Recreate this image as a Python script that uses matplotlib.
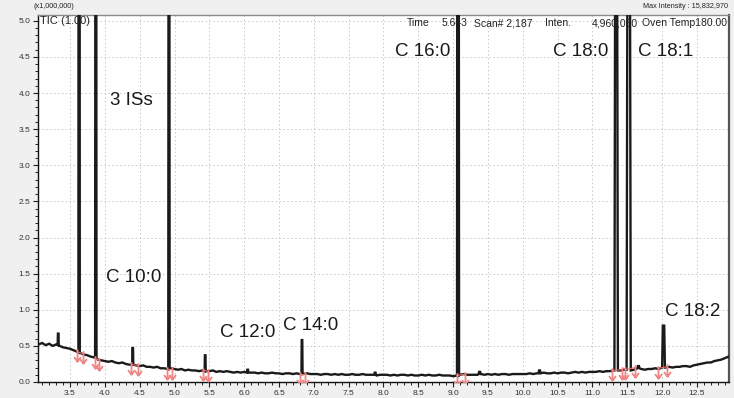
import numpy as np
import matplotlib
matplotlib.use("Agg")
import matplotlib.pyplot as plt
from matplotlib.ticker import MultipleLocator, FormatStrFormatter
from matplotlib.path import Path
from matplotlib import font_manager

# ---- chromatogram data (intensity in units of 1,000,000) ----
# baseline trace sampled every 0.05 min from 3.05 to 12.95 min
base_start, base_step = 3.05, 0.05
baseline = [
    0.52, 0.54, 0.51, 0.53, 0.50, 0.52, 0.50, 0.48, 0.47, 0.46,
    0.44, 0.42, 0.40, 0.38, 0.37, 0.35, 0.34, 0.31, 0.30, 0.29,
    0.28, 0.29, 0.27, 0.26, 0.27, 0.25, 0.24, 0.25, 0.23, 0.22,
    0.23, 0.21, 0.21, 0.20, 0.21, 0.19, 0.19, 0.18, 0.19, 0.18,
    0.17, 0.18, 0.16, 0.17, 0.16, 0.16, 0.15, 0.16, 0.15, 0.15,
    0.16, 0.14, 0.15, 0.14, 0.15, 0.14, 0.13, 0.14, 0.13, 0.14,
    0.14, 0.13, 0.13, 0.12, 0.13, 0.12, 0.12, 0.13, 0.12, 0.12,
    0.11, 0.12, 0.12, 0.11, 0.12, 0.11, 0.11, 0.12, 0.11, 0.11,
    0.11, 0.10, 0.11, 0.11, 0.10, 0.11, 0.10, 0.11, 0.10, 0.10,
    0.11, 0.10, 0.10, 0.11, 0.10, 0.10, 0.10, 0.09, 0.10, 0.10,
    0.10, 0.09, 0.10, 0.09, 0.10, 0.10, 0.09, 0.10, 0.09, 0.09,
    0.10, 0.09, 0.10, 0.09, 0.09, 0.10, 0.09, 0.09, 0.09, 0.08,
    0.09, 0.10, 0.11, 0.10, 0.10, 0.10, 0.10, 0.11, 0.10, 0.11,
    0.10, 0.11, 0.10, 0.11, 0.11, 0.10, 0.11, 0.11, 0.11, 0.11,
    0.11, 0.12, 0.11, 0.12, 0.11, 0.13, 0.12, 0.12, 0.13, 0.12,
    0.13, 0.13, 0.12, 0.13, 0.14, 0.13, 0.14, 0.13, 0.14, 0.14,
    0.14, 0.15, 0.14, 0.15, 0.15, 0.16, 0.16, 0.16, 0.17, 0.17,
    0.16, 0.17, 0.18, 0.18, 0.17, 0.18, 0.18, 0.19, 0.18, 0.19,
    0.20, 0.21, 0.20, 0.21, 0.21, 0.22, 0.22, 0.21, 0.23, 0.24,
    0.25, 0.26, 0.27, 0.27, 0.29, 0.30, 0.31, 0.33, 0.35,
]

# peaks: retention time (min), apex intensity, foot level, half-width (min)
peak_rt     = [3.33, 3.63, 3.87, 4.40, 4.92, 5.44, 6.05, 6.83, 7.88, 9.07, 9.38, 10.24, 11.34, 11.52, 11.66, 12.02]
peak_height = [0.67, 15.83, 9.60, 0.47, 8.30, 0.37, 0.17, 0.58, 0.13, 12.40, 0.14, 0.16, 6.90, 7.60, 0.22, 0.78]
peak_foot   = [0.51, 0.41, 0.33, 0.24, 0.18, 0.15, 0.13, 0.11, 0.10, 0.09, 0.11, 0.12, 0.16, 0.17, 0.19, 0.20]
peak_width  = [0.008, 0.010, 0.010, 0.008, 0.010, 0.008, 0.010, 0.008, 0.012, 0.015, 0.015, 0.015, 0.025, 0.030, 0.015, 0.020]

# integration start/end marks (pairs)
mark_rt    = [3.60, 3.69, 3.86, 3.92, 4.38, 4.48, 4.89, 4.96, 5.41, 5.48, 6.80, 6.87,
              9.05, 9.17, 11.28, 11.42, 11.47, 11.61, 11.94, 12.07]
mark_level = [0.42, 0.39, 0.33, 0.30, 0.24, 0.23, 0.18, 0.18, 0.16, 0.15, 0.11, 0.11,
              0.09, 0.11, 0.16, 0.17, 0.17, 0.20, 0.19, 0.21]

# peak annotations
label_text = ["3 ISs", "C 10:0", "C 12:0", "C 14:0", "C 16:0", "C 18:0", "C 18:1", "C 18:2"]
label_pos = [(4.07, 3.90), (4.02, 1.45), (5.65, 0.69), (6.56, 0.78),
             (8.16, 4.57), (10.44, 4.57), (11.65, 4.57), (12.04, 0.98)]

x_ticks = np.arange(3.5, 12.51, 0.5)
y_ticks = np.arange(0.0, 5.01, 0.5)

# ---- build trace ----
bt = np.round(base_start + base_step * np.arange(len(baseline)), 3)
bv = np.array(baseline)
keep = np.ones(len(bt), dtype=bool)
for rt, w in zip(peak_rt, peak_width):
    keep &= ~((bt >= rt - w) & (bt <= rt + w))
tt = list(bt[keep])
vv = list(bv[keep])
for rt, h, f, w in zip(peak_rt, peak_height, peak_foot, peak_width):
    tt += [rt - w, rt - 0.5 * w, rt + 0.5 * w, rt + w]
    vv += [f, h, h, f]
order = np.argsort(tt)
tt = np.array(tt)[order]
vv = np.array(vv)[order]

# ---- fonts ----
names = {f.name for f in font_manager.fontManager.ttflist}
narrow = "Liberation Sans Narrow" if "Liberation Sans Narrow" in names else "Liberation Sans"

# down-arrow marker used for integration start/end marks
arrow = Path([(0, 1), (0, -1), (-0.55, -0.25), (0, -1), (0.55, -0.25)],
             [Path.MOVETO, Path.LINETO, Path.MOVETO, Path.LINETO, Path.LINETO])

W, H = 734, 398
fig = plt.figure(figsize=(W / 100, H / 100), dpi=100, facecolor="#f0f0f0")
ax = fig.add_axes([38 / W, 1 - 382 / H, (729 - 38) / W, (382 - 15) / H])
ax.set_facecolor("white")

ax.plot(tt, vv, color="#1a1a1a", lw=1.7, solid_joinstyle="miter", zorder=3)

# integration baselines and marks
for i in range(0, len(mark_rt), 2):
    ax.plot(mark_rt[i:i + 2], mark_level[i:i + 2], color="#f06a6a", lw=0.8, zorder=4)
ax.plot(mark_rt, np.array(mark_level) - 0.05, linestyle="none", marker=arrow,
        markersize=9, markeredgewidth=1.3, markeredgecolor="#f08585",
        markerfacecolor="none", zorder=5)

ax.set_xlim(3.04, 12.96)
ax.set_ylim(0, 5.08)
ax.set_xticks(x_ticks)
ax.set_yticks(y_ticks)
ax.xaxis.set_minor_locator(MultipleLocator(0.1))
ax.yaxis.set_minor_locator(MultipleLocator(0.1))
ax.xaxis.set_major_formatter(FormatStrFormatter("%.1f"))
ax.yaxis.set_major_formatter(FormatStrFormatter("%.1f"))
ax.tick_params(which="major", direction="out", length=3.5, width=0.8, pad=2,
               labelsize=6, labelcolor="#333333", color="#222222")
ax.tick_params(which="minor", direction="out", length=2, width=0.7, color="#222222")
for lab in ax.get_xticklabels() + ax.get_yticklabels():
    lab.set_family(narrow)

ax.grid(True, which="major", color="#c8c8c8", linestyle=(0, (1.5, 2.5)), lw=0.7, zorder=0)

for side in ("left", "bottom"):
    ax.spines[side].set_color("#111111")
    ax.spines[side].set_linewidth(1.0)
ax.spines["top"].set_color("#8a8a8a")
ax.spines["top"].set_linewidth(1.0)
ax.spines["right"].set_color("#555555")
ax.spines["right"].set_linewidth(1.6)

for txt, (x, y) in zip(label_text, label_pos):
    ax.text(x, y, txt, fontsize=13.5, family="Liberation Sans", color="#1a1a1a",
            ha="left", va="center", zorder=6)

# header texts
def ftxt(x, y, s, size, ha="left"):
    fig.text(x / W, 1 - y / H, s, fontsize=size, family=narrow, color="#222222",
             ha=ha, va="center")

ftxt(33, 7, "(x1,000,000)", 5.2)
ftxt(728, 7, "Max Intensity : 15,832,970", 5.2, ha="right")
ftxt(40, 21, "TIC (1.00)", 8)
ftxt(407, 23, "Time", 7.5)
ftxt(442, 23, "5.643", 7.5)
ftxt(474, 23, "Scan# 2,187", 7.5)
ftxt(545, 23, "Inten.", 7.5)
ftxt(592, 23, "4,960,050", 7.5)
ftxt(727, 23, "Oven Temp180.00", 7.5, ha="right")

fig.savefig("out.png", dpi=100, facecolor=fig.get_facecolor())
